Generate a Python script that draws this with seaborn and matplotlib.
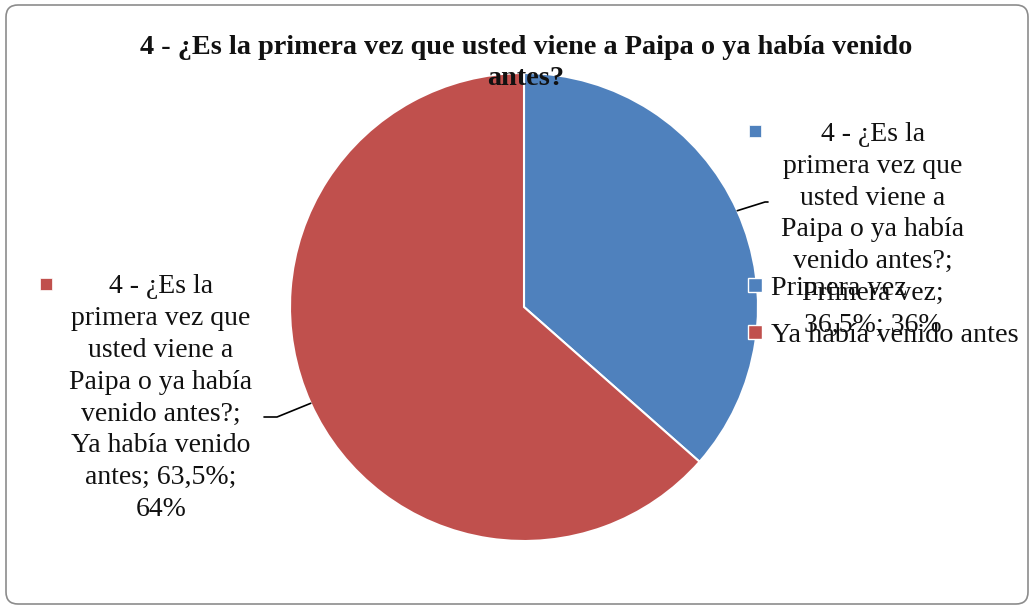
import numpy as np
import matplotlib
matplotlib.use("Agg")
import matplotlib.pyplot as plt
from matplotlib.patches import FancyBboxPatch
import seaborn as sns

# Survey question 4: first visit to Paipa or returning visitor
question = "4 - ¿Es la primera vez que usted viene a Paipa o ya había venido antes?"
categories = ["Primera vez", "Ya había venido antes"]
percentages = [36.5, 63.5]
colors = ["#4F81BD", "#C0504D"]

sns.set_theme(style="white")
plt.rcParams["font.family"] = ["Liberation Serif", "DejaVu Serif"]

W, H = 1034, 609
fig = plt.figure(figsize=(W / 100, H / 100), dpi=100)
ax = fig.add_axes([0, 0, 1, 1])

# chart frame
frame = FancyBboxPatch((6, 5), W - 12, H - 10,
                       boxstyle="round,pad=0,rounding_size=12",
                       transform=ax.transData, facecolor="white",
                       edgecolor="#8C8C8C", linewidth=1.2, zorder=0)
ax.add_patch(frame)

cx, cy, r = 524, 302, 234
wedges, _ = ax.pie(percentages, colors=colors, startangle=90, counterclock=False,
                   center=(cx, cy), radius=r, frame=True,
                   wedgeprops=dict(edgecolor="white", linewidth=1.5))
ax.set_xlim(0, W)
ax.set_ylim(0, H)
ax.set_aspect("equal")
ax.axis("off")

# title
ax.text(526, H - 63, "4 - ¿Es la primera vez que usted viene a Paipa o ya había venido\nantes?",
        ha="center", va="center", fontsize=20.3, fontweight="bold",
        linespacing=1.3, color="#111111", zorder=7)

def fmt(v):
    return f"{v:.1f}".replace(".", ",")

label_texts = [
    "4 - ¿Es la\nprimera vez que\nusted viene a\nPaipa o ya había\nvenido antes?;\n"
    f"{categories[0]};\n{fmt(percentages[0])}%; {round(percentages[0])}%",
    "4 - ¿Es la\nprimera vez que\nusted viene a\nPaipa o ya había\nvenido antes?;\n"
    f"Ya había venido\nantes; {fmt(percentages[1])}%;\n{round(percentages[1] + 0.5)}%",
]
label_centers = [(873, H - 230), (161, H - 398)]
elbows = [((765, H - 202), (768, H - 202)), ((277, H - 417), (264, H - 417))]
square_pos = [(755, H - 131), (46, H - 284)]

for i, (w, pct) in enumerate(zip(wedges, percentages)):
    mid = np.deg2rad((w.theta1 + w.theta2) / 2)
    ex, ey = cx + r * np.cos(mid), cy + r * np.sin(mid)
    (bx, by), (hx, hy) = elbows[i]
    ax.plot([ex, bx, hx], [ey, by, hy], color="black", linewidth=1.2, zorder=5)
    lx, ly = label_centers[i]
    ax.text(lx, ly, label_texts[i], ha="center", va="center", fontsize=20,
            linespacing=1.36, color="#111111", zorder=6)
    sx, sy = square_pos[i]
    ax.scatter([sx], [sy], marker="s", s=80, color=colors[i], zorder=6,
               edgecolors="white", linewidths=0.5)

# legend
handles = [plt.Line2D([], [], marker="s", linestyle="", markersize=10,
                      markerfacecolor=c, markeredgecolor="white") for c in colors]
leg = ax.legend(handles, categories, loc="upper left",
                bbox_to_anchor=(748 / W, 1 - 275 / H), frameon=False,
                fontsize=20.3, handlelength=0.5, handletextpad=0.3,
                labelspacing=0.75, borderpad=0, borderaxespad=0)
for t in leg.get_texts():
    t.set_color("#111111")

fig.savefig("out.png", dpi=100)
